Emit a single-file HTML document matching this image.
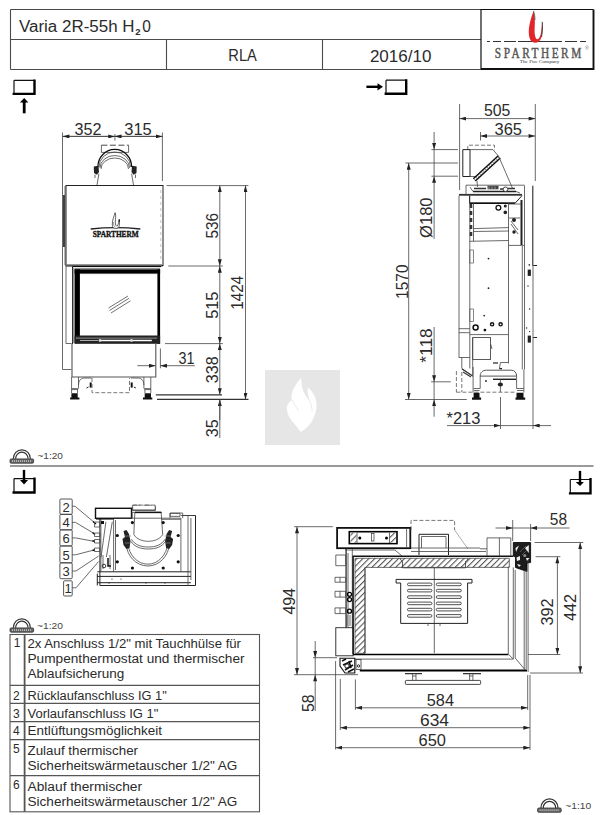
<!DOCTYPE html>
<html><head><meta charset="utf-8"><style>
html,body{margin:0;padding:0;background:#fff;width:605px;height:815px;overflow:hidden}
svg{display:block}
text{font-family:"Liberation Sans",sans-serif;fill:#2b2b2b}
.l{stroke:#222;stroke-width:1;fill:none}
.t{stroke:#444;stroke-width:0.8;fill:none}
.g{stroke:#777;stroke-width:0.8;fill:none}
.k{stroke:#000;fill:none}
.d{font-size:16px}
.dash{stroke:#555;stroke-width:0.8;fill:none;stroke-dasharray:4 2}
</style></head><body>
<svg width="605" height="815" viewBox="0 0 605 815">
<defs>
<marker id="ar" viewBox="0 0 10 6" refX="10" refY="3" markerWidth="7" markerHeight="4" orient="auto-start-reverse" markerUnits="userSpaceOnUse"><path d="M0,0 L10,3 L0,6 z" fill="#222"/></marker>
</defs>
<!-- HEADER -->
<g id="header">
<path d="M10.5,9.5 H481 M10.5,39.5 H481 M10.5,69.5 H481 M10.5,9.5 V69.5 M166.5,39.5 V69.5 M322.5,39.5 V69.5" stroke="#4a4a4a" stroke-width="1.1" fill="none"/>
<path d="M481,69 V9.5 H593.5" fill="none" stroke="#111" stroke-width="1.2"/><path d="M481,69 H593.5 V9.5" fill="none" stroke="#111" stroke-width="1.9"/>
<text x="19" y="32.2" font-size="16" textLength="115.5" lengthAdjust="spacingAndGlyphs">Varia 2R-55h H</text>
<text x="135.3" y="34.7" font-size="9.5" font-weight="bold" textLength="5.3" lengthAdjust="spacingAndGlyphs">2</text>
<text x="142.3" y="32.2" font-size="16.5" textLength="8.6" lengthAdjust="spacingAndGlyphs">0</text>
<text x="228.3" y="60.7" font-size="16" textLength="28.5" lengthAdjust="spacingAndGlyphs">RLA</text>
<text x="369.9" y="61.8" font-size="16.3" textLength="61.5" lengthAdjust="spacingAndGlyphs">2016/10</text>
</g>
<!-- LOGO -->
<g id="logo">
<path d="M487,41.5 H586" stroke="#333" stroke-width="1" stroke-dasharray="3 3 8 3 12 2 44 3 12 3 8 3 3" fill="none"/>
<path d="M533.5,11 C531,18 528.5,26 528.8,33.3 C529,38 530.5,42 534.5,42.8 C538,43 540.5,41 541.5,37 C542.5,32 542.8,26 542.2,21.8 C541.5,26 541.5,30 541,32.6 C540.5,36 539,39.3 537.3,39.3 C535.5,39 534.5,35 534.6,30 C534.8,24 535.5,17 533.5,11 Z" fill="#e0262b"/>
<path d="M542.2,21.8 C542.8,26 542.5,32 541.5,37" stroke="#444" stroke-width="1" fill="none"/>
<path d="M533.5,11 C534.5,14 535,17 534.9,20" stroke="#555" stroke-width="0.9" fill="none"/>
<text transform="scale(0.8,1)" x="618.6" y="57.8" style="font-family:'Liberation Serif';fill:#555;stroke:#555;stroke-width:0.45" font-size="14.2" textLength="108" lengthAdjust="spacing">SPARTHERM</text>
<text x="519.7" y="63" style="font-family:'Liberation Serif';fill:#333" font-size="4.3" textLength="39.7" lengthAdjust="spacingAndGlyphs">The Fire Company</text>
<text x="585" y="50" font-size="5" style="fill:#777">®</text>
</g>

<!-- ICONS -->
<g id="icons">
<path d="M14,80.3 H34.5 M14,80.3 V93.8" stroke="#111" stroke-width="1.2" fill="none"/>
<path d="M12.6,93.9 H34.5 V79.5" stroke="#000" stroke-width="2.4" fill="none"/>
<path d="M24.2,113.3 V101.5" stroke="#000" stroke-width="2.8"/>
<path d="M19.9,102.6 L24.2,98 L28.4,102.6 Z" fill="#000"/>
<path d="M386,80.2 H406 M386,80.2 V93.8" stroke="#111" stroke-width="1.2" fill="none"/>
<path d="M384.6,93.8 H406.2 V79.2" stroke="#000" stroke-width="2.4" fill="none"/>
<path d="M366.4,86.8 H379" stroke="#000" stroke-width="2.4"/>
<path d="M377.5,83.2 L383,86.8 L377.5,90.5 Z" fill="#000"/>
</g>
<!-- FRONT VIEW -->
<g id="front">
<!-- dims top -->
<path class="t" d="M62.7,136.4 H114.9 M114.9,136.4 H162.4" />
<path class="t" d="M62.7,136.4 H114.9" marker-start="url(#ar)" marker-end="url(#ar)"/>
<path class="t" d="M114.9,136.4 H162.4" marker-start="url(#ar)" marker-end="url(#ar)"/>
<path class="t" d="M114.9,134 V140.5 M162.4,132.5 V181"/>
<text class="d" x="74.5" y="134.5" textLength="27" lengthAdjust="spacingAndGlyphs">352</text>
<text class="d" x="124.3" y="134.5" textLength="27.5" lengthAdjust="spacingAndGlyphs">315</text>
<!-- left side line -->
<path class="t" d="M62.5,132.5 V369.5 H71.5"/>
<path d="M64,195 V247" stroke="#111" stroke-width="1.6"/>
<path class="t" d="M65,186 V265 M66,265 V343.5 H71.5"/>
<!-- flue pipe -->
<path d="M101.4,145.2 H128.6" stroke="#333" stroke-width="0.9" stroke-dasharray="6 2.5"/>
<path class="t" d="M101.4,145.2 V152.4 M128.6,145.2 V152.4 M101.4,152.4 H128.6"/>
<path d="M97.9,167 A16.85,17.6 0 0 1 131.6,167" stroke="#111" stroke-width="1.3" fill="none"/>
<path class="t" d="M99,167 A15.75,15 0 0 1 130.5,167 M100,168 A14.75,12.5 0 0 1 129.5,168 M101,169 A13.75,11 0 0 1 128.5,169"/>
<path d="M93.8,166.5 L98.5,165.8 L99,172 L97,174.7 L94,173 Z" fill="#222"/>
<path d="M136.7,166.5 L132,165.8 L131.5,172 L133.5,174.7 L136.5,173 Z" fill="#222"/>
<path class="t" d="M98.9,173.7 L96.9,185.6 M131.6,173.7 L133.6,185.6 M95,174.5 V178 M135.5,174.5 V178"/>
<!-- hood -->
<rect x="66" y="185.5" width="97" height="80" fill="none" stroke="#222" stroke-width="1"/>
<path d="M66,265.8 H162.5" stroke="#111" stroke-width="1.6"/>
<path d="M160.8,190 V262" stroke="#999" stroke-width="0.6" stroke-dasharray="3 3"/>
<!-- logo in hood -->
<path d="M90.7,229 Q115.5,226.2 140.3,229" stroke="#222" stroke-width="1.3" fill="none"/>
<path d="M115.2,212.7 C114,216 112,221 112.3,225 C112.5,227 113.5,228.3 115.5,228.5 C117.5,228.6 119,227.5 119.3,225.5 C119.6,223.5 119.5,221.5 119.3,219.5 C118.8,222 118.5,224.5 117.3,226 C116.2,226.5 115.2,225 115.3,222 C115.4,219 116.2,216 115.2,212.7 Z" stroke="#222" stroke-width="0.7" fill="#fff"/><path d="M113.5,222 C113.3,224.5 114,226.5 115.5,227.3" stroke="#444" stroke-width="0.5" fill="none"/><rect x="118.6" y="219.5" width="1.3" height="2.5" fill="#222"/>
<text x="92.7" y="237.3" style="font-family:'Liberation Serif';font-weight:bold;fill:#111;stroke:#111;stroke-width:0.35" font-size="8.5" textLength="46" lengthAdjust="spacingAndGlyphs">SPARTHERM</text>
<!-- door -->
<path d="M66,265 H162" stroke="#777" stroke-width="1.5"/>
<path d="M72.5,266.6 H161" stroke="#000" stroke-width="1"/>
<path d="M72.5,266.6 V344" stroke="#111" stroke-width="1"/>
<path d="M73.5,268 V343" stroke="#999" stroke-width="1.5"/>
<rect x="74.6" y="269.3" width="85.5" height="4.3" fill="#000"/>
<path d="M74.6,268.6 H160" stroke="#888" stroke-width="1"/>
<rect x="74.6" y="269.3" width="5.3" height="74" fill="#000"/>
<rect x="157.4" y="269.3" width="2.7" height="74.5" fill="#000"/>
<rect x="74.6" y="335.5" width="85.5" height="8.3" fill="#222"/>
<rect x="76" y="337.5" width="81" height="1.3" fill="#777"/>
<path d="M101,340.5 H151.8" stroke="#fff" stroke-width="1.4"/>
<path d="M80,340.5 H98" stroke="#aaa" stroke-width="1"/>
<circle cx="100" cy="340.5" r="1.4" fill="#ddd"/><circle cx="131.5" cy="340.5" r="1.4" fill="#ddd"/>
<path d="M79.9,273.6 H157.4" stroke="#555" stroke-width="0.6"/>
<path d="M109.5,310.5 L129,298.3 M111,313 L130.5,300.8 M108.5,308 L128,296" stroke="#333" stroke-width="0.7"/>
<!-- lower body -->
<path d="M72,343.6 V377 H155.8 V343.6" stroke="#555" stroke-width="1.1" fill="none"/>
<g id="legL">
<path class="t" d="M71.6,377 V393 M78.5,377 V388.3 M71.6,388.6 H78.5 M71.6,389.6 H78 M77.5,389.6 V393"/>
<path d="M71.4,393.2 H77.7 V397.5 H79.4 V399.6 H70.1 V397.5 H71.4 Z" fill="#111"/>
<path class="t" d="M78.5,385 C78.8,381 80,378.5 84,378 H91.5"/>
<path d="M90.7,382.5 V387.6" stroke="#111" stroke-width="2"/>
<path d="M86.5,388 L88.5,387" stroke="#222" stroke-width="1"/>
</g>
<g transform="translate(222.4,0) scale(-1,1)"><use href="#legL"/></g>
<path class="dash" d="M92,378 V392.7 H129.5 V378"/>
<!-- right dims -->
<path class="t" d="M166.6,185.6 H248.4 M168.3,266 H222.8 M165,343.6 H222.8"/><path d="M155.8,394.8 H222 M157,399.4 H248.5" stroke="#333" stroke-width="1.2"/>
<path class="t" d="M219.8,185.6 V266" marker-start="url(#ar)" marker-end="url(#ar)"/>
<path class="t" d="M219.8,266 V343.6" marker-start="url(#ar)" marker-end="url(#ar)"/>
<path class="t" d="M219.8,343.6 V394.8" marker-start="url(#ar)" marker-end="url(#ar)"/>
<path class="t" d="M219.8,420 V399.4" marker-end="url(#ar)"/>
<path class="t" d="M219.8,399.4 V438"/>
<path class="t" d="M245.5,185.6 V399.4" marker-start="url(#ar)" marker-end="url(#ar)"/>
<text class="d" transform="translate(218.2,225.8) rotate(-90)" text-anchor="middle" textLength="25.6" lengthAdjust="spacingAndGlyphs">536</text>
<text class="d" transform="translate(218.2,305.2) rotate(-90)" text-anchor="middle" textLength="27.3" lengthAdjust="spacingAndGlyphs">515</text>
<text class="d" transform="translate(218.2,369.7) rotate(-90)" text-anchor="middle" textLength="27" lengthAdjust="spacingAndGlyphs">338</text>
<text class="d" transform="translate(218.2,428.2) rotate(-90)" text-anchor="middle" textLength="18" lengthAdjust="spacingAndGlyphs">35</text>
<text class="d" transform="translate(243,292.7) rotate(-90)" text-anchor="middle" textLength="34" lengthAdjust="spacingAndGlyphs">1424</text>
<!-- 31 -->
<path class="t" d="M160.4,348.5 V368.3"/>
<path class="t" d="M137.3,365.7 H155.5" marker-end="url(#ar)"/>
<path class="t" d="M194.8,365.7 H160.4" marker-end="url(#ar)"/>
<text class="d" x="178.5" y="364.4" textLength="16" lengthAdjust="spacingAndGlyphs">31</text>
</g>
<!-- SIDE VIEW -->
<g id="side">
<!-- top dims -->
<path class="t" d="M459.6,104 V190 M535.3,104 V181 M480.5,132 V140.5"/>
<path class="t" d="M459.6,118.6 H535.3" marker-start="url(#ar)" marker-end="url(#ar)"/>
<path class="t" d="M480.5,136 H535.3" marker-start="url(#ar)" marker-end="url(#ar)"/>
<text class="d" x="484" y="116.3" textLength="26.4" lengthAdjust="spacingAndGlyphs">505</text>
<text class="d" x="494.5" y="134.5" textLength="27.5" lengthAdjust="spacingAndGlyphs">365</text>
<!-- Ø180 -->
<path class="t" d="M431.4,149.6 H458 M431.4,176.2 H458 M405.4,163 H458"/>
<path class="t" d="M434.1,132 V149.6" marker-end="url(#ar)"/><path class="t" d="M434.1,149.6 V176.2"/>
<path class="t" d="M434.1,238.8 V176.2" marker-end="url(#ar)"/>
<text class="d" transform="translate(432,217.7) rotate(-90)" text-anchor="middle" textLength="40.6" lengthAdjust="spacingAndGlyphs">Ø180</text>
<!-- 1570 -->
<path class="t" d="M408.7,163 V399.5" marker-start="url(#ar)" marker-end="url(#ar)"/>
<path class="t" d="M405,399.5 H466.8"/>
<text class="d" transform="translate(408.2,281.7) rotate(-90)" text-anchor="middle" textLength="34.4" lengthAdjust="spacingAndGlyphs">1570</text>
<!-- *118 -->
<path class="t" d="M431.1,381.8 H450.8"/>
<path class="t" d="M434.1,327 V381.8" marker-end="url(#ar)"/>
<path class="t" d="M434.1,416.7 V399.5" marker-end="url(#ar)"/><path class="t" d="M434.1,381.8 V399.5"/>
<text class="d" transform="translate(431.6,345.5) rotate(-90)" text-anchor="middle" textLength="34.4" lengthAdjust="spacingAndGlyphs">*118</text>
<!-- *213 -->
<path class="t" d="M500.5,397 V429 M533,185.5 V429"/>
<path class="t" d="M447,425.6 H500.5" marker-end="url(#ar)"/>
<path class="t" d="M551,425.6 H533" marker-end="url(#ar)"/><path class="t" d="M500.5,425.6 H533"/>
<text class="d" x="446.5" y="424" textLength="34" lengthAdjust="spacingAndGlyphs">*213</text>
<!-- flue elbow -->
<path class="dash" d="M467.8,150 V145.2 H494.5 V150"/>
<path class="l" d="M462.8,149.6 H470 V176.5 H462.8 Z"/>
<path class="t" d="M470,149.6 L492.9,149.6 L498.7,156.4 M470,176.5 L476.5,176.5"/>
<path d="M473.3,178.8 L498.3,155.8 M475.3,181 L500.3,158" stroke="#111" stroke-width="1.5"/>
<path d="M474.3,179.9 L499.3,156.9" stroke="#777" stroke-width="1.2" stroke-dasharray="1 1.5"/>
<path class="t" d="M498.7,156.4 L512.7,188.7 M477,181 L477.5,187"/>
<!-- body top -->
<path class="t" d="M466,193.9 V185.2 H524.5"/>
<path d="M473,191.5 H516" stroke="#222" stroke-width="1.6"/>
<path d="M474,188.5 H486 M500,189 H504 M508,188.5 H515" stroke="#333" stroke-width="1.4"/>
<rect x="487.5" y="185.8" width="11" height="3.5" fill="#444"/>
<path d="M489,186.5 V189 M492,186.5 V189 M495,186.5 V189" stroke="#ccc" stroke-width="0.6"/>
<circle cx="505.5" cy="189.3" r="2.3" fill="#fff" stroke="#333" stroke-width="0.9"/>
<path class="t" d="M470,187 L473,191.5 M516,191.5 L520,193"/>
<rect x="459" y="193.9" width="63" height="1.8" fill="#333"/>
<path class="l" d="M469.5,195.6 V203.1 H515.2 L522,195.6"/>
<path d="M469.5,203.3 H515" stroke="#111" stroke-width="1.4"/>
<circle cx="498.4" cy="207.8" r="2.4" fill="none" stroke="#111" stroke-width="1.3"/>
<circle cx="505.3" cy="206" r="1.5" fill="#222"/><circle cx="505.3" cy="212.4" r="1.8" fill="#222"/>
<!-- columns -->
<path class="t" d="M459,195.6 V357.5 M469.8,195.6 V368.4 M473.5,203 V241.3 M508.5,203 V363.4 M524.5,185.5 V369.4 M522.3,246 V369.4 M532.5,186 V265.7"/>
<path d="M471,204 V236" stroke="#333" stroke-width="2.5" stroke-dasharray="4 3"/>
<path d="M521.5,200 V245" stroke="#222" stroke-width="2"/>
<path class="t" d="M473.5,228.6 L509,227.6 M473.5,231.5 L509,231 M469.5,241.3 L508.5,240.5 M508.5,245.4 H524.5 M508.5,204 H521"/>
<path class="t" d="M509,218 L520,218 M511,221 L518,230 M511,224 L518,234"/>
<circle cx="514" cy="220" r="2" fill="#222"/><circle cx="514" cy="232" r="1.7" fill="#222"/>
<!-- left tube details -->
<path class="t" d="M458.8,328.7 H469.8 M458.8,332.7 H469.8 M461.8,357.5 V368.4 M458.8,357.5 H469.8 M461.8,368.4 L472.7,376.3"/>
<!-- lower body -->
<path class="t" d="M469.8,334.6 H508.5"/>
<circle cx="475.6" cy="327.4" r="2.5" fill="none" stroke="#111" stroke-width="1.5"/>
<circle cx="484.9" cy="330.1" r="1.4" fill="#111"/>
<circle cx="492.1" cy="324.3" r="1.6" fill="none" stroke="#111" stroke-width="1.4"/>
<circle cx="500.6" cy="324.3" r="1.6" fill="none" stroke="#111" stroke-width="1.4"/>
<rect x="469.8" y="309" width="3.8" height="12.5" fill="none" stroke="#555" stroke-width="0.7"/>
<rect x="469.8" y="250" width="3.8" height="13" fill="none" stroke="#555" stroke-width="0.7"/>
<g fill="#222"><circle cx="529.3" cy="264.9" r="0.8"/><rect x="527.7" y="269.6" width="3.2" height="6.3"/><circle cx="528" cy="286" r="0.7"/><circle cx="529.6" cy="309" r="0.7"/><circle cx="526.6" cy="328" r="0.7"/><circle cx="529.6" cy="331.6" r="0.7"/><rect x="527.7" y="335.6" width="3.2" height="7"/></g>
<path d="M533.2,265.5 H537 M533.2,337.5 H537" stroke="#222" stroke-width="1.2"/>
<circle cx="484.2" cy="315.6" r="0.9" fill="#222"/><circle cx="488.5" cy="288.2" r="0.9" fill="#222"/><circle cx="488.5" cy="258.6" r="0.9" fill="#222"/>
<rect x="472.7" y="337.6" width="17.9" height="21.8" fill="none" stroke="#333" stroke-width="0.8"/>
<path class="t" d="M472.7,337.6 V375 M490.6,344 L492,349"/>
<!-- base frame -->
<path class="t" d="M473.1,367 V392.5 M523.9,369.4 V392.5 M480.2,376.1 V388.5 M516.6,376.1 V388.5 M473.6,388.5 H480.2 M516.6,388.5 H523.9 M474,390.5 H479.5 M517,390.5 H523.5"/>
<path d="M480.2,376.1 C480.2,372.5 482.5,370.2 486.5,370.2 H511.2 C514.5,370.2 516.6,372.5 516.6,376.1 Z" fill="none" stroke="#444" stroke-width="0.9"/>
<path d="M493,379.3 H516" stroke="#222" stroke-width="1.4"/>
<path d="M473.6,392.8 H479.5 V397.5 H481.1 V399.7 H472 V397.5 H473.6 Z" fill="#111"/>
<path d="M516.5,392.8 H523.5 V397.5 H525.2 V399.7 H515.5 V397.5 H516.5 Z" fill="#111"/>
<path class="dash" d="M456.4,392.2 H516 M456.4,371 V392.2 M461.8,372 V392"/>
<path class="t" d="M500.4,379.3 V392"/>
<ellipse cx="500.4" cy="384.5" rx="2.6" ry="2" fill="#222"/>
<circle cx="486" cy="381" r="0.9" fill="#222"/>
<path class="t" d="M499.4,368.6 L500.4,362.5 H508.5"/>
<path d="M499.4,368.6 H502" stroke="#222" stroke-width="1.3"/>
<path d="M462,369 L472.7,376 M463,372 L471,377" stroke="#333" stroke-width="1.1"/>
<path d="M493,363 H498" stroke="#222" stroke-width="1.2"/>
</g>
<!-- SEPARATOR + SCALE ICONS -->
<g id="sep">
<path d="M10,466 H593.5" stroke="#777" stroke-width="1.3"/>
<g id="scaleicon">
<path d="M13.3,458.8 A8.55,9 0 0 1 30.4,458.8 M15.6,458.8 A6.25,6.6 0 0 1 28.1,458.8" stroke="#333" stroke-width="1.2" fill="none"/>
<rect x="10" y="458.9" width="23.6" height="4.3" rx="1.2" fill="#666" stroke="#333" stroke-width="0.8"/>
<path d="M12.5,460.2 V462 M14.5,460.2 V462 M16.5,460.2 V462 M18.5,460.2 V462 M20.5,460.2 V462 M22.5,460.2 V462 M24.5,460.2 V462 M26.5,460.2 V462 M28.5,460.2 V462 M30.5,460.2 V462" stroke="#ddd" stroke-width="0.7"/>
</g>
<text x="37.4" y="459.1" font-size="9.7" style="fill:#444" textLength="25.5" lengthAdjust="spacingAndGlyphs">~1:20</text>
<use href="#scaleicon" transform="translate(0,169)"/>
<text x="37" y="628.8" font-size="9.7" style="fill:#444" textLength="25.9" lengthAdjust="spacingAndGlyphs">~1:20</text>
<use href="#scaleicon" transform="translate(527.6,349.1)"/>
<text x="565.3" y="809.1" font-size="9.7" style="fill:#444" textLength="26" lengthAdjust="spacingAndGlyphs">~1:10</text>
<!-- box down-arrow icons -->
<path d="M14,478.6 H34.5 M14,478.6 V492.4" stroke="#111" stroke-width="1.2" fill="none"/>
<path d="M12.5,492.5 H34.5 V477.5" stroke="#000" stroke-width="2.4" fill="none"/>
<path d="M24,469.9 V481" stroke="#000" stroke-width="2.4"/>
<path d="M20,480 L24,484.6 L28.1,480 Z" fill="#000"/>
<path d="M570.3,479.5 H590.5 M570.3,479.5 V493" stroke="#111" stroke-width="1.2" fill="none"/>
<path d="M568.9,493.4 H590.5 V478" stroke="#000" stroke-width="2.4" fill="none"/>
<path d="M580,470.9 V482.5" stroke="#000" stroke-width="2.4"/>
<path d="M575.7,481.9 L580,486 L583.9,481.9 Z" fill="#000"/>
</g>
<!-- SMALL TOP VIEW -->
<g id="smalltop">
<g font-size="13" style="fill:#222">
<rect x="59.9" y="499" width="12.3" height="15.3" rx="1" fill="none" stroke="#444" stroke-width="0.9"/>
<rect x="59.9" y="514.4" width="12.3" height="15.4" rx="1" fill="none" stroke="#444" stroke-width="0.9"/>
<rect x="59.9" y="529.9" width="12.3" height="16" rx="1" fill="none" stroke="#444" stroke-width="0.9"/>
<rect x="59.9" y="546" width="12.3" height="16.8" rx="1" fill="none" stroke="#444" stroke-width="0.9"/>
<rect x="59.9" y="562.9" width="12.3" height="15.8" rx="1" fill="none" stroke="#444" stroke-width="0.9"/>
<rect x="63.6" y="580.8" width="8.6" height="15.2" rx="1" fill="none" stroke="#444" stroke-width="0.9"/>
<text x="66" y="511.7" text-anchor="middle">2</text>
<text x="66" y="527.2" text-anchor="middle">4</text>
<text x="66" y="543.2" text-anchor="middle">6</text>
<text x="66" y="560" text-anchor="middle">5</text>
<text x="66" y="576" text-anchor="middle">3</text>
<text x="68" y="593.3" text-anchor="middle">1</text>
</g>
<path class="t" d="M72.2,506.2 H75 L95,523 M72.2,522.4 H75.5 L94,533.5 M72.2,537.9 H75.5 L94,541.3 M72.2,554.8 H75.5 L94,550 M72.2,571 H76 L98.6,556 M72.2,587.8 H76 L98.6,561.5"/>
<path d="M93,521.5 L96,524 M92.5,532.5 L95,534.5 M92.5,540.7 L95,541.5 M92.5,550.5 L95,549.7" stroke="#111" stroke-width="1.5"/>
<!-- body -->
<rect x="95.5" y="508.3" width="36" height="10" fill="none" stroke="#111" stroke-width="1.4"/>
<path class="dash" d="M132.7,510.9 V505.1 H155.5 V510.9"/>
<path class="t" d="M132.7,510.5 H155.5 M132.2,512.4 H162 M132.2,512.4 V518"/>
<path class="l" d="M99.9,518.5 V585.5 H195.5 V515.5 H182.7 M97.3,571.8 H190.9 M97.3,573.6 V585.5 M97.3,576.4 H190.9 M97.3,582.7 H190.9"/>
<path class="t" d="M100.9,519 V571 M113.6,518.2 H180.9 V571.8 M113.6,518.2 V571.8 M115.5,520 V570 M180.9,515.5 H195.5 M188,515.5 V585.5 M190.9,518 V580 M170,518.2 V513 H182.7 V518.2"/>
<path d="M96,518.8 H113.6" stroke="#111" stroke-width="1.5"/>
<!-- connection nubs -->
<path class="t" d="M94.5,522 H99.9 V527 H94.5 Z M94.5,533 H99.9 V536.5 H94.5 Z M94.5,539.5 H99.9 V543 H94.5 Z M94.5,548 H99.9 V551.5 H94.5 Z"/>
<path class="t" d="M105.9,521.8 L101,557.5 M112.3,521.8 L106.4,557 M103,555 V569 M110,555 L110,569"/>
<rect x="101" y="521" width="3" height="3" fill="#111"/>
<circle cx="104" cy="566" r="1.8" fill="none" stroke="#222" stroke-width="0.9"/>
<path d="M108,558 V566 H111" stroke="#111" stroke-width="1.5" fill="none"/>
<!-- pipe -->
<path class="t" d="M132.4,510 V505.2 M155.2,505.2 V510 M132.4,509.9 H155.2"/>
<path d="M132.4,505.2 H155.2" stroke="#555" stroke-width="0.8" stroke-dasharray="8 3"/>
<path d="M134.9,512.4 H161.2" stroke="#111" stroke-width="1.5"/>
<path class="t" d="M134.9,512.4 C134.5,520 134,528 133.9,534.7 C137,539.5 143,541.3 148.3,541.3 C153.6,541.3 159.6,539.5 162.7,534.7 C162.3,528 161.6,520 161.2,512.4"/>
<path class="t" d="M131.4,539.2 C135,545 141,547 148.3,547 C155.6,547 161.6,545 165.1,539.2 M130.8,541.2 C134.5,547 141,549 148.3,549 C155.6,549 162,547 165.7,541.2"/>
<path class="t" d="M126,543.7 C127,556 136,566 147.8,566 C159.5,566 168.5,556 169.6,543.7 M127.8,543.7 C129,554.5 137,564.2 147.8,564.2 C158.6,564.2 166.6,554.5 167.8,543.7"/>
<path d="M123.5,531 L125,537 L122.5,539 L123.5,545 L126.5,549 L129.5,548 L130.5,541 L129,534 L126.5,530 Z" fill="#222"/>
<path d="M124.5,536 H131 M125,543 H130.5" stroke="#888" stroke-width="0.7"/>
<path d="M172.1,531 L170.6,537 L173.1,539 L172.1,545 L169.1,549 L166.1,548 L165.1,541 L166.6,534 L169.1,530 Z" fill="#222"/>
<path d="M171.1,536 H164.6 M170.6,543 H165.1" stroke="#888" stroke-width="0.7"/>
<path class="t" d="M161.2,519.3 H180.9 M170.1,513.4 H180 V516.4 H170.1 Z"/>
<!-- bolts -->
<g fill="#111">
<circle cx="117.3" cy="535.5" r="1.6"/><circle cx="117.3" cy="561.8" r="1.6"/>
<circle cx="132.4" cy="522.6" r="1.6"/><circle cx="163.2" cy="522.6" r="1.6"/>
<circle cx="178.2" cy="535.5" r="1.6"/><circle cx="178.2" cy="561.8" r="1.6"/>
<circle cx="132.4" cy="568" r="1.6"/><circle cx="163.2" cy="568" r="1.6"/>
<circle cx="112" cy="579" r="0.6"/><circle cx="121" cy="579" r="0.6"/><circle cx="109" cy="583" r="0.6"/>
<circle cx="146" cy="583" r="0.6"/><circle cx="165" cy="583" r="0.6"/>
</g>
</g>
<!-- BIG TOP VIEW -->
<defs>
<pattern id="hatch" patternUnits="userSpaceOnUse" width="4.2" height="4.2" patternTransform="rotate(45)">
<rect width="4.2" height="4.2" fill="#fff"/><path d="M0.6,0 V4.2" stroke="#3a3a3a" stroke-width="0.95"/>
</pattern>
</defs>
<g id="bigtop">
<!-- dims -->
<path class="t" d="M294.2,526.7 H332.8 M294,674.7 H358"/>
<path class="t" d="M297,526.7 V674.7" marker-start="url(#ar)" marker-end="url(#ar)"/>
<text class="d" transform="translate(294.7,601.2) rotate(-90)" text-anchor="middle" textLength="26.4" lengthAdjust="spacing">494</text>
<path class="t" d="M313,657.7 H337"/>
<path class="t" d="M315.2,641 V657.7" marker-end="url(#ar)"/><path class="t" d="M315.2,657.7 V674.7"/>
<path class="t" d="M315.2,711 V674.7" marker-end="url(#ar)"/>
<text class="d" transform="translate(313.5,703.2) rotate(-90)" text-anchor="middle" textLength="17.6" lengthAdjust="spacingAndGlyphs">58</text>
<path class="t" d="M355.4,679.4 V709.8 M340.3,679 V730 M335.6,661 V749.5 M527.7,675 V710 M530,675 V750"/>
<path class="t" d="M355.4,707.8 H527.7" marker-start="url(#ar)" marker-end="url(#ar)"/>
<path class="t" d="M340.3,727.7 H530" marker-start="url(#ar)" marker-end="url(#ar)"/>
<path class="t" d="M335.6,747.7 H530" marker-start="url(#ar)" marker-end="url(#ar)"/>
<text class="d" x="426.8" y="706" textLength="27.2" lengthAdjust="spacingAndGlyphs">584</text>
<text class="d" x="420" y="726.4" textLength="29" lengthAdjust="spacingAndGlyphs">634</text>
<text class="d" x="418.6" y="745.5" textLength="27.4" lengthAdjust="spacingAndGlyphs">650</text>
<!-- 58 right -->
<path class="t" d="M512.7,520 V541 M530.6,524 V541"/>
<path class="t" d="M495.5,528 H512.7" marker-end="url(#ar)"/><path class="t" d="M512.7,528 H530.6"/>
<path class="t" d="M569.6,528 H530.6" marker-end="url(#ar)"/>
<text class="d" x="549.8" y="525.3" textLength="17.2" lengthAdjust="spacingAndGlyphs">58</text>
<!-- 442 / 392 -->
<path class="t" d="M534.6,542.5 H583.2 M535.6,556.7 H560.4 M530,673 H583 M528,654.5 H560.4"/>
<path class="t" d="M580.2,542.5 V673" marker-start="url(#ar)" marker-end="url(#ar)"/>
<path class="t" d="M557.4,556.7 V654.5" marker-start="url(#ar)" marker-end="url(#ar)"/>
<text class="d" transform="translate(575.5,607.5) rotate(-90)" text-anchor="middle" textLength="27" lengthAdjust="spacingAndGlyphs">442</text>
<text class="d" transform="translate(552.7,612) rotate(-90)" text-anchor="middle" textLength="27" lengthAdjust="spacingAndGlyphs">392</text>
<!-- top-left box -->
<rect x="337.1" y="527.9" width="73.2" height="20.3" fill="none" stroke="#111" stroke-width="1.8"/>
<path class="t" d="M406.6,529 V547"/>
<rect x="349.3" y="531.7" width="47.7" height="11.9" fill="none" stroke="#000" stroke-width="1.6"/>
<rect x="350.5" y="532.8" width="6" height="9.8" fill="url(#hatch)"/>
<rect x="389.8" y="532.8" width="6" height="9.8" fill="url(#hatch)"/>
<path class="t" d="M357,532.5 V543 M389.5,532.5 V543"/>
<circle cx="359.8" cy="538" r="1.5" fill="#000"/><circle cx="386.5" cy="538" r="1.5" fill="#000"/>
<rect x="371.5" y="533.5" width="2.5" height="7.5" fill="none" stroke="#333" stroke-width="0.7"/>
<path class="t" d="M345,550 H395 M395,550 L402,556"/>
<!-- dashed + collar -->
<path class="dash" d="M411,530 V520.4 H454.6 V530"/><path d="M454.6,530 L468,549" stroke="#888" stroke-width="0.7"/>
<path class="l" d="M419,555 V534.3 H448.5 V555"/>
<path class="t" d="M421.5,536.5 H446 V548 M421.5,536.5 V548 M411,548 H480 M411,551.5 H486"/>
<!-- right boxes -->
<path class="t" d="M480,548.8 H487 M487,555.8 V537.9 H510.8 V555.8 M499.4,537.9 V555.8"/>
<path d="M513.3,542.5 H530.6 V562.5 L527,563 V571.5 L515.5,567.5 V557 L513.3,556 Z" fill="#1c1c1c" stroke="#000" stroke-width="0.8"/>
<path d="M515.5,548 L519,545.5 L516,552 Z M525,548 L528.8,545 L528.8,553 Z M516.5,557.5 L520,556 L520,560 L517,561 Z M526,558 L529.5,558 L527,561 Z M517,564 L521,565 L519,567 Z" fill="#eee"/>
<circle cx="524.8" cy="555.5" r="1.6" fill="#888"/>
<path d="M520,552 L526,546 M522,555 L527,550" stroke="#777" stroke-width="0.6"/>
<!-- left column -->
<path class="t" d="M335.8,555 H345.7 V565.7 H335.8 Z M335,577.3 H345.7 V582.2 H335 Z M335,591.3 H345.7 V597.1 H335 Z M335,607.9 H345.7 V613.6 H335 Z M340,577.3 V582.2 M340,591.3 V597.1 M340,607.9 V613.6"/>
<path class="t" d="M345.7,549 V627.7 M346.5,549 V627.7 M352.3,549 V627.7 M348,553 V627.7"/>
<rect x="335.8" y="627.7" width="17.3" height="28.1" fill="none" stroke="#222" stroke-width="0.9"/>
<circle cx="349.5" cy="594.3" r="2" fill="none" stroke="#000" stroke-width="1.2"/>
<circle cx="349.5" cy="599.6" r="2" fill="none" stroke="#000" stroke-width="1.2"/>
<circle cx="349.5" cy="611.2" r="2" fill="none" stroke="#000" stroke-width="1.3"/>
<path class="t" d="M347,615 V626 M350,615 V626"/>
<!-- main walls -->
<path d="M353.1,654.3 V556.3 H513.3" stroke="#111" stroke-width="1.5" fill="none"/>
<path d="M355,558.3 H509.3 V567.4 H365 V653.3 H355 Z" fill="url(#hatch)" stroke="#333" stroke-width="0.7"/>
<path d="M400.7,558.3 V560 L402.5,561.5 V567.8 H465.5 V561.5 L467.6,560 V558.3" stroke="#333" stroke-width="0.8" fill="none"/>
<path d="M353,654.5 H508.3" stroke="#000" stroke-width="1.6"/>
<path class="t" d="M353,659.1 H513.3 M365,567.4 V653.3"/>
<path d="M359.8,670.5 H527" stroke="#000" stroke-width="2.2"/>
<path class="t" d="M508.3,567.4 V654.2 L513.3,659 M513.3,567.4 V659 M515.2,570 V658 L525.2,670 M524.2,570 V669 M526.2,570 V669 M528.1,560 V672"/>
<!-- corner bottom-left -->
<path d="M340,658.3 L354.8,658.3 L354.8,673 L345,673 L340,666 Z" fill="#fff" stroke="#111" stroke-width="1.1"/>
<path d="M342,661 L346,659 M343,665 L352,661 M345,670 L353,665 M348,672 L354,669 M349,661 L351,668" stroke="#111" stroke-width="1.6"/>
<circle cx="347" cy="666" r="2.2" fill="none" stroke="#111" stroke-width="1"/>
<rect x="356" y="659.5" width="5" height="10" fill="none" stroke="#333" stroke-width="0.8"/>
<circle cx="358.5" cy="666" r="1.2" fill="none" stroke="#000" stroke-width="0.8"/>
<!-- center line -->
<path class="t" d="M434.3,567.4 V653.2"/>
<!-- grate -->
<path class="l" d="M396.1,583 V579.4 H472 V583 H467.6 V623.4 H400.7 V583 Z"/>
<g fill="#fff" stroke="#222" stroke-width="0.8"><rect x="407.5" y="583.1" width="24.4" height="2.6" rx="1.3"/><rect x="436.3" y="583.1" width="25" height="2.6" rx="1.3"/><rect x="407.5" y="589.3000000000001" width="24.4" height="2.6" rx="1.3"/><rect x="436.3" y="589.3000000000001" width="25" height="2.6" rx="1.3"/><rect x="407.5" y="595.8000000000001" width="24.4" height="2.6" rx="1.3"/><rect x="436.3" y="595.8000000000001" width="25" height="2.6" rx="1.3"/><rect x="407.5" y="602.1" width="24.4" height="2.6" rx="1.3"/><rect x="436.3" y="602.1" width="25" height="2.6" rx="1.3"/><rect x="407.5" y="608.3000000000001" width="24.4" height="2.6" rx="1.3"/><rect x="436.3" y="608.3000000000001" width="25" height="2.6" rx="1.3"/><rect x="407.5" y="614.6" width="24.4" height="2.6" rx="1.3"/><rect x="436.3" y="614.6" width="25" height="2.6" rx="1.3"/></g>
<path class="t" d="M428,623.4 V626 M440,623.4 V626"/>
<!-- handle -->
<rect x="405.4" y="680.4" width="75.2" height="4" rx="0.8" fill="#fff" stroke="#333" stroke-width="0.9"/>
<path class="t" d="M412.6,673.5 V680.4 M416,673.5 V680.4 M469.6,673.5 V680.4 M472.9,673.5 V680.4 M412.6,676 H416 M469.6,676 H472.9"/>
<path d="M405,673.6 H422 M463,673.6 H481" stroke="#333" stroke-width="1.1"/>
</g>
<!-- TABLE -->
<g id="table">
<rect x="10" y="634.5" width="249.5" height="177.3" fill="none" stroke="#555" stroke-width="1.1"/>
<path d="M24.6,634.5 V811.8" stroke="#555" stroke-width="1.8"/>
<path d="M10,685.4 H259.5 M10,703.4 H259.5 M10,721.6 H259.5 M10,739.6 H259.5 M10,775.6 H259.5" stroke="#555" stroke-width="1.3"/>
<g font-size="12" style="fill:#222">
<text x="13.8" y="646.5">1</text>
<text x="13" y="699.8">2</text>
<text x="13" y="717.6">3</text>
<text x="13" y="734.8">4</text>
<text x="13" y="752.6">5</text>
<text x="13" y="788.8">6</text>
<text x="27.5" y="647.7" textLength="213.5" lengthAdjust="spacingAndGlyphs">2x Anschluss 1/2" mit Tauchhülse für</text>
<text x="27.5" y="663.4" textLength="217.1" lengthAdjust="spacingAndGlyphs">Pumpenthermostat und thermischer</text>
<text x="27.5" y="678.4" textLength="96.8" lengthAdjust="spacingAndGlyphs">Ablaufsicherung</text>
<text x="27.5" y="699.8" textLength="139.2" lengthAdjust="spacingAndGlyphs">Rücklaufanschluss IG 1"</text>
<text x="27.5" y="717.6" textLength="130.9" lengthAdjust="spacingAndGlyphs">Vorlaufanschluss IG 1"</text>
<text x="27.5" y="734.8" textLength="134.5" lengthAdjust="spacingAndGlyphs">Entlüftungsmöglichkeit</text>
<text x="27.5" y="755.2" textLength="110.5" lengthAdjust="spacingAndGlyphs">Zulauf thermischer</text>
<text x="27.5" y="769.8" textLength="209.9" lengthAdjust="spacingAndGlyphs">Sicherheitswärmetauscher 1/2" AG</text>
<text x="27.5" y="790.7" textLength="114.5" lengthAdjust="spacingAndGlyphs">Ablauf thermischer</text>
<text x="27.5" y="805.7" textLength="209.9" lengthAdjust="spacingAndGlyphs">Sicherheitswärmetauscher 1/2" AG</text>
</g>
</g>
<!-- WATERMARK -->
<g id="wm">
<rect x="265" y="370" width="75" height="75" fill="#e6e6e6"/>
<path d="M301.1,378 C297.5,382 293,388 291.8,394 C291.3,397 291.5,398.5 291.9,399.8 C288.5,402.5 286.5,405.5 286.8,409 C287.2,414 289.5,418 292.5,421.5 C295.5,425 298.5,429 300.7,432 C306,429 311,424 313.5,418 C316.5,412 317.5,405 315.5,398.5 C314,394 311,390 307.9,387.6 C307.2,391 307.8,395 309.5,399.5 L309,400.5 C306.5,397 303,392 302,387 C301.5,384 301.3,381 301.1,378 Z" fill="#fff"/>
<path d="M291.9,399.8 C293.5,403 295.5,406 298.5,410.5 M309.3,400 C311,403.5 312,407 312.2,411.5" stroke="#e6e6e6" stroke-width="0.9" fill="none"/>
</g>
</svg>
</body></html>
